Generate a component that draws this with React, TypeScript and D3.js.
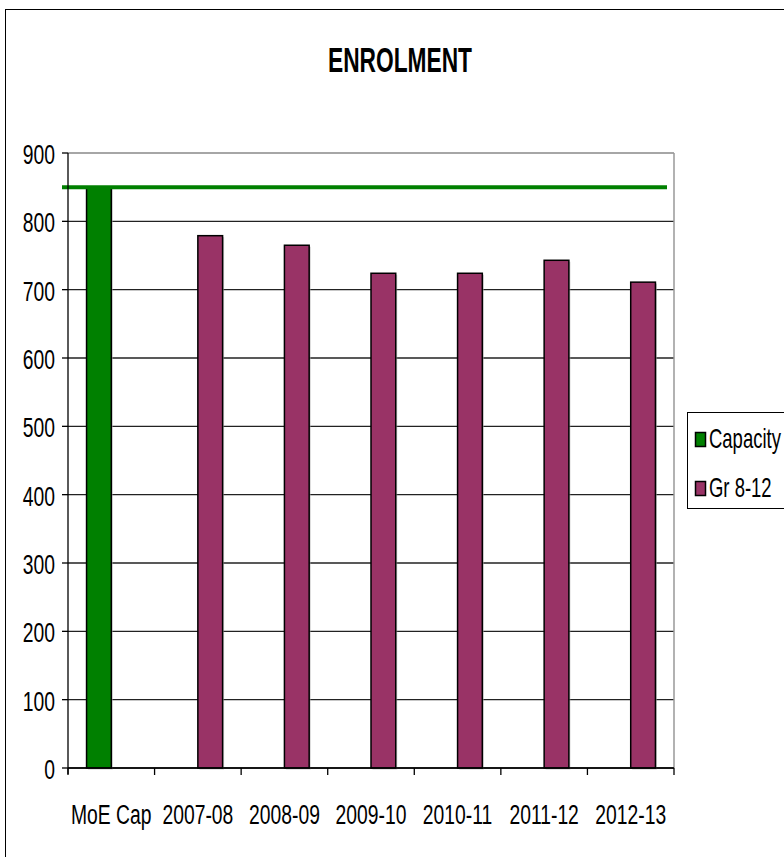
import React from "react";
import * as d3 from "d3";

const categories = ["MoE Cap", "2007-08", "2008-09", "2009-10", "2010-11", "2011-12", "2012-13"];
const capacityValues: (number | null)[] = [850, null, null, null, null, null, null];
const gradeValues: (number | null)[] = [null, 779, 765, 724, 724, 743, 711];
const capacityLine = 850;
const yTicks = [0, 100, 200, 300, 400, 500, 600, 700, 800, 900];
const seriesNames = ["Capacity", "Gr 8-12"];
const seriesColors = ["#008000", "#993366"];

const FONT = "'Liberation Sans', Arial, sans-serif";

function NText(props: { x: number; y: number; size: number; sx?: number; anchor?: string; bold?: boolean; children: React.ReactNode }) {
  return (
    <text
      transform={`translate(${props.x},${props.y}) scale(${props.sx ?? 0.69},1)`}
      textAnchor={props.anchor || "start"}
      fontSize={props.size}
      fontWeight={props.bold ? "bold" : "normal"}
      fill="#000"
    >
      {props.children}
    </text>
  );
}

export default function App() {
  const left = 68, right = 674, top = 153, bottom = 768;
  const x = d3.scaleBand<string>().domain(categories).range([left, right]).paddingInner(0).paddingOuter(0);
  const y = d3.scaleLinear().domain([0, 900]).range([bottom, top]);
  const bw = x.bandwidth() / 3.5;
  const series = [capacityValues, gradeValues];

  return (
    <svg width={784} height={857} style={{ position: "absolute", left: 0, top: 0, background: "#fff" }} fontFamily={FONT}>
      <rect x={5.5} y={9.5} width={800} height={900} fill="#fff" stroke="#000" strokeWidth={1} />
      <NText x={400} y={72} size={35} sx={0.65} anchor="middle" bold>ENROLMENT</NText>
      {/* gridlines */}
      {yTicks.map((t) => (
        <line key={t} x1={left} x2={right} y1={y(t)} y2={y(t)} stroke={t === 900 ? "#888" : "#222"} strokeWidth={1.3} />
      ))}
      <line x1={right} x2={right} y1={top} y2={bottom} stroke="#999" strokeWidth={1.5} />
      {/* bars */}
      {series.map((vals, si) =>
        vals.map((v, i) => {
          if (v == null) return null;
          const cx = (x(categories[i]) as number) + x.bandwidth() / 2;
          const bx = si === 0 ? cx - bw : cx;
          return (
            <g key={si + "-" + i}>
              <rect x={bx + 1.5} y={y(v) + 1.5} width={bw} height={bottom - y(v)} fill="#aaa" opacity={0.6} />
              <rect x={bx} y={y(v)} width={bw} height={bottom - y(v)} fill={seriesColors[si]} stroke="#000" strokeWidth={1.5} />
            </g>
          );
        })
      )}
      {/* capacity line */}
      <line x1={62} x2={667} y1={y(capacityLine)} y2={y(capacityLine)} stroke="#008000" strokeWidth={4} />
      {/* y axis */}
      <line x1={left} x2={left} y1={top} y2={bottom + 6} stroke="#000" strokeWidth={1.3} />
      {yTicks.map((t) => (
        <g key={"yt" + t}>
          <line x1={left - 6} x2={left} y1={y(t)} y2={y(t)} stroke="#000" strokeWidth={1.3} />
          <NText x={left - 13} y={y(t) + 11} size={28} anchor="end">{t}</NText>
        </g>
      ))}
      {/* x axis */}
      <line x1={left} x2={right} y1={bottom} y2={bottom} stroke="#000" strokeWidth={1.3} />
      {categories.map((c) => (
        <g key={c}>
          <line x1={x(c) as number} x2={x(c) as number} y1={bottom} y2={bottom + 7} stroke="#000" strokeWidth={1.3} />
          <NText x={(x(c) as number) + x.bandwidth() / 2} y={824} size={28} anchor="middle">{c}</NText>
        </g>
      ))}
      <line x1={right} x2={right} y1={bottom} y2={bottom + 7} stroke="#000" strokeWidth={1.3} />
      {/* legend */}
      <rect x={687.5} y={412.5} width={120} height={96} fill="#fff" stroke="#000" strokeWidth={1} />
      {seriesNames.map((n, i) => (
        <g key={n}>
          <rect x={695.5} y={432.5 + i * 49} width={10} height={14} fill={seriesColors[i]} stroke="#000" strokeWidth={1.5} />
          <NText x={709} y={448 + i * 49} size={28} sx={0.66}>{n}</NText>
        </g>
      ))}
    </svg>
  );
}
